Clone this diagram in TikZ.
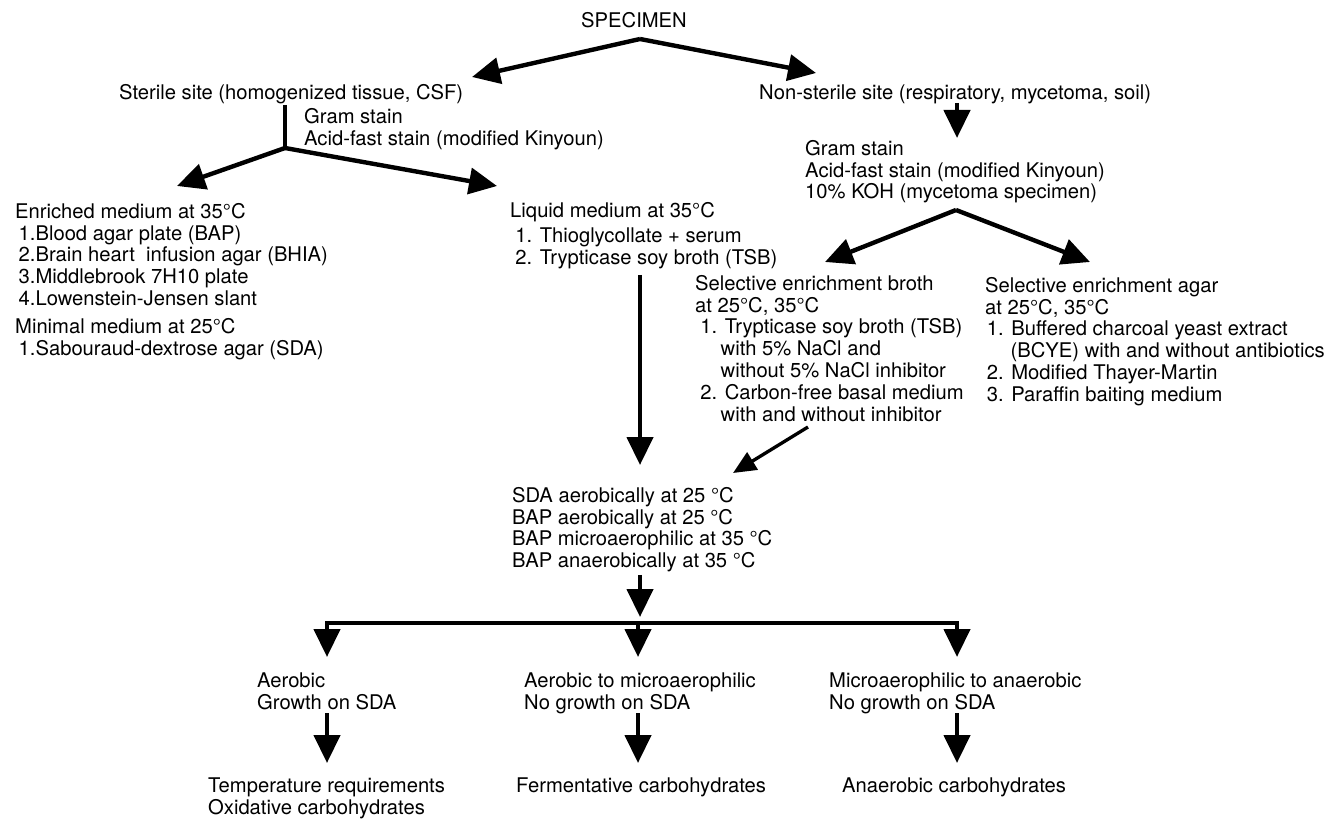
\documentclass[tikz,border=0pt]{standalone}
\usepackage{fontspec}
\setmainfont{TeX Gyre Heros}
\usetikzlibrary{arrows.meta}

\begin{document}
\begin{tikzpicture}[x=0.02cm,y=-0.02cm,line width=2.5pt,
  >={Triangle[length=0.56cm,width=0.52cm]},
  txt/.style={anchor=north west,inner sep=0pt,align=left,
    font=\fontsize{11.5}{12.4}\selectfont},
  flow/.style={->,line width=2.5pt},
  thinflow/.style={-{Triangle[length=0.46cm,width=0.4cm]},line width=1.9pt}]
  \useasboundingbox (0,0) rectangle (1332,820);

  % top level
  \node[txt,anchor=north] (spec) at (634,10) {SPECIMEN};
  \node[txt] (sterile) at (117,82) {Sterile site (homogenized tissue, CSF)};
  \node[txt] (nonsterile) at (757,83) {Non-sterile site (respiratory, mycetoma, soil)};
  \node[txt] (stainL) at (302,106) {Gram stain\\Acid-fast stain (modified Kinyoun)};
  \node[txt] (stainR) at (803,138) {Gram stain\\Acid-fast stain (modified Kinyoun)\\10\% KOH (mycetoma specimen)};

  % media
  \node[txt] (enriched) at (13,201) {Enriched medium at 35°C\\\hspace*{2pt}1.Blood agar plate (BAP)\\\hspace*{2pt}2.Brain heart~ infusion agar (BHIA)\\\hspace*{2pt}3.Middlebrook 7H10 plate\\\hspace*{2pt}4.Lowenstein-Jensen slant};
  \node[txt] (minimal) at (13,316) {Minimal medium at 25°C\\\hspace*{2pt}1.Sabouraud-dextrose agar (SDA)};
  \node[txt] (liquid) at (508,200) {Liquid medium at 35°C\\[2pt]\hspace*{3pt}1. Thioglycollate + serum\\\hspace*{3pt}2. Trypticase soy broth (TSB)};
  \node[txt] (broth) at (693,273) {Selective enrichment broth\\at 25°C, 35°C\\\hspace*{3pt}1. Trypticase soy broth (TSB)\\\hspace*{14.5pt}with 5\% NaCl and\\\hspace*{14.5pt}without 5\% NaCl inhibitor\\\hspace*{3pt}2. Carbon-free basal medium\\\hspace*{14.5pt}with and without inhibitor};
  \node[txt] (agar) at (983,275) {Selective enrichment agar\\at 25°C, 35°C\\\hspace*{1pt}1. Buffered charcoal yeast extract\\\hspace*{14.5pt}(BCYE) with and without antibiotics\\\hspace*{1pt}2. Modified Thayer-Martin\\\hspace*{1pt}3. Paraffin baiting medium};
  \node[txt] (plates) at (510,485) {SDA aerobically at 25 °C\\BAP aerobically at 25 °C\\BAP microaerophilic at 35 °C\\BAP anaerobically at 35 °C};

  % growth
  \node[txt] (aerobic) at (255,671) {Aerobic\\Growth on SDA};
  \node[txt] (aeromicro) at (522,671) {Aerobic to microaerophilic\\No growth on SDA};
  \node[txt] (microana) at (827,671) {Microaerophilic to anaerobic\\No growth on SDA};
  \node[txt] (tempreq) at (206,776) {Temperature requirements\\Oxidative carbohydrates};
  \node[txt] (ferment) at (514,776) {Fermentative carbohydrates};
  \node[txt] (anaerob) at (840,776) {Anaerobic carbohydrates};

  % branch points
  \coordinate (fork0) at (640,39);
  \coordinate (toSterile) at (472,77);
  \coordinate (toNon) at (816,73);
  \coordinate (stem) at (285,105);
  \coordinate (fork1) at (285,148);
  \coordinate (toEnriched) at (177,186);
  \coordinate (toLiquid) at (497,186);
  \coordinate (fromNon) at (957,103);
  \coordinate (toStainR) at (957,138);
  \coordinate (fork2) at (956,210);
  \coordinate (toBroth) at (825,262);
  \coordinate (toAgar) at (1090,262);
  \coordinate (fromLiquid) at (640,275);
  \coordinate (fromBroth) at (808,427);
  \coordinate (toPlates) at (733,473);
  \coordinate (toPlatesL) at (640,465);
  \coordinate (fromPlates) at (640,575);
  \coordinate (toBar) at (640,617);
  \coordinate (bar) at (638,623);
  \coordinate (toAerobic) at (327,657);
  \coordinate (toAeroMicro) at (638,657);
  \coordinate (toMicroAna) at (957,657);

  \draw[flow] (fork0) -- (toSterile);
  \draw[flow] (fork0) -- (toNon);
  \draw (stem) -- (fork1);
  \draw[flow] (fork1) -- (toEnriched);
  \draw[flow] (fork1) -- (toLiquid);
  \draw[flow] (fromNon) -- (toStainR);
  \draw[flow] (fork2) -- (toBroth);
  \draw[flow] (fork2) -- (toAgar);
  \draw[flow] (fromLiquid) -- (toPlatesL);
  \draw[thinflow] (fromBroth) -- (toPlates);
  \draw[flow] (fromPlates) -- (toBar);
  \draw[flow] (bar) -| (toAerobic);
  \draw[flow] (bar) -| (toMicroAna);
  \draw[flow] (bar) -- (toAeroMicro);
  \foreach \xx in {327,638,957}
    \draw[flow] (\xx,713) -- (\xx,763);
\end{tikzpicture}
\end{document}
